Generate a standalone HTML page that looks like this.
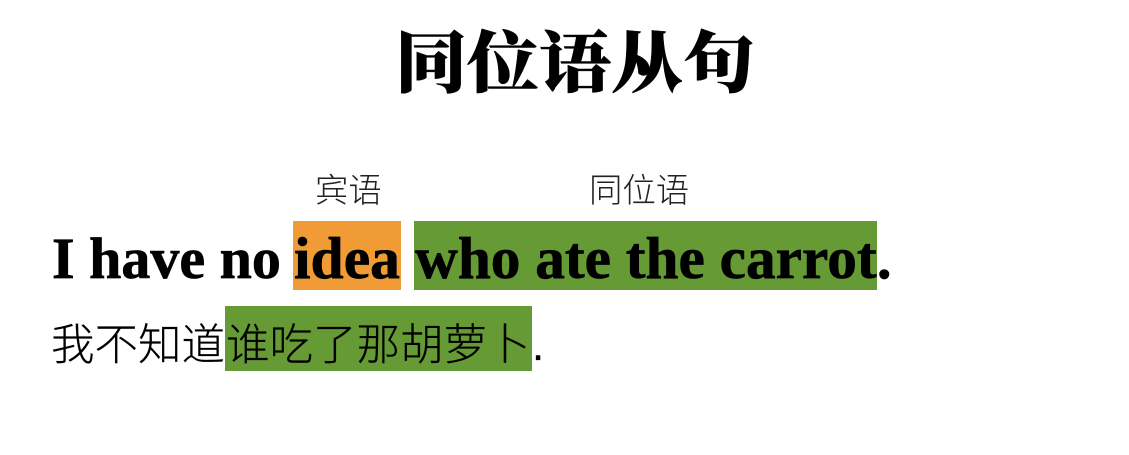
<!DOCTYPE html>
<html lang="zh">
<head>
<meta charset="utf-8">
<title>同位语从句</title>
<style>
html,body{margin:0;padding:0;background:#fff;width:1129px;height:455px;overflow:hidden}
#stage{position:relative;width:1129px;height:455px;background:#fff;overflow:hidden}
#stage div{position:absolute;white-space:pre;line-height:1}
.box{box-shadow:0 0 1px rgba(255,255,255,.6)}
.en{font-family:"Liberation Serif",serif;font-weight:700;font-size:58px;color:#000;top:230px;-webkit-text-stroke:.7px #000}
.zh{font-family:"Liberation Sans","Noto Sans CJK SC",sans-serif;font-weight:300;font-size:43.5px;color:#000;top:325px;-webkit-text-stroke:.2px #000}
.lab{font-family:"Liberation Sans","Noto Sans CJK SC",sans-serif;font-weight:300;font-size:33.4px;color:#222;top:175px}
</style>
</head>
<body>
<div id="stage">
  <div class="box" style="left:293px;top:221px;width:108px;height:69px;background:#f09b36"></div>
  <div class="box" style="left:414px;top:221px;width:463px;height:69px;background:#669a35"></div>
  <div class="box" style="left:225px;top:306px;width:307px;height:65px;background:#669a35"></div>

  <div style="left:395px;top:28px;font-family:'Liberation Serif','Noto Serif CJK SC',serif;font-weight:900;font-size:72px;color:#000;-webkit-text-stroke:.5px #000;transform:scaleY(.93);transform-origin:center">同位语从句</div>

  <div class="lab" style="left:315px">宾语</div>
  <div class="lab" style="left:589px">同位语</div>

  <div class="en" style="left:52px">I have no </div>
  <div class="en" style="left:294px;font-size:59.6px;top:229px">idea</div>
  <div class="en" style="left:415px;font-size:59.3px;top:229px">who ate the carrot</div>
  <div class="en" style="left:877px">.</div>

  <div class="zh" style="left:51px">我不知道</div>
  <div class="zh" style="left:226px">谁吃了那胡萝卜</div>
  <div class="zh" style="left:532px">.</div>
</div>
</body>
</html>
